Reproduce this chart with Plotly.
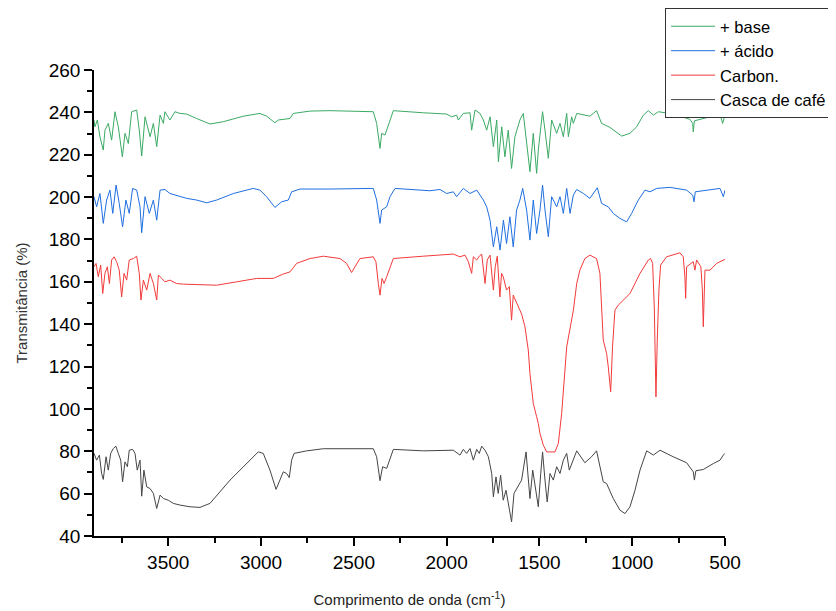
import plotly.graph_objects as go

# ---- Casca de café (black) ----
casca_wn = [3900, 3886, 3871, 3859, 3850, 3835, 3823, 3810, 3796, 3782, 3769, 3756, 3746, 3733, 3720, 3710,
            3692, 3679, 3667, 3652, 3643, 3631, 3616, 3598, 3580, 3562, 3544, 3526, 3500, 3473, 3437, 3383,
            3329, 3275, 3167, 3095, 3015, 2988, 2952, 2919, 2898, 2880, 2862, 2848, 2835, 2822, 2754, 2664,
            2395, 2377, 2359, 2345, 2323, 2287, 2126, 1982, 1964, 1928, 1910, 1892, 1874, 1856, 1838, 1824,
            1811, 1793, 1775, 1757, 1748, 1734, 1722, 1709, 1695, 1680, 1668, 1650, 1637, 1619, 1596, 1572,
            1562, 1551, 1536, 1524, 1506, 1493, 1483, 1470, 1458, 1443, 1425, 1407, 1389, 1371, 1353, 1339,
            1326, 1299, 1255, 1219, 1192, 1174, 1156, 1138, 1102, 1066, 1039, 1012, 985, 958, 922, 886,
            850, 779, 707, 671, 665, 657, 617, 563, 527, 509, 500]
casca_t = [79.0, 75.8, 78.2, 69.5, 66.7, 77.4, 71.1, 79.0, 81.3, 82.4, 79.0, 75.8, 65.6, 75.0, 72.7, 80.5,
           80.9, 79.0, 71.1, 75.8, 58.8, 71.1, 63.2, 62.4, 60.1, 53.0, 59.3, 57.7, 56.9, 55.4, 54.6, 53.8,
           53.5, 55.4, 66.4, 72.7, 79.7, 79.0, 71.1, 62.0, 66.4, 70.3, 69.5, 67.6, 75.8, 79.0, 80.2, 81.2,
           81.2, 77.4, 66.1, 72.7, 71.9, 80.9, 80.2, 80.5, 80.5, 78.2, 80.9, 79.0, 81.3, 75.8, 80.9, 79.0,
           82.4, 80.5, 77.4, 69.5, 58.5, 67.9, 60.1, 68.7, 56.9, 61.6, 55.4, 46.7, 60.1, 63.2, 66.4, 79.7,
           69.5, 57.7, 71.1, 63.2, 53.8, 69.5, 79.7, 66.4, 56.1, 69.5, 66.4, 72.7, 69.5, 75.8, 79.0, 71.1,
           74.2, 80.2, 74.6, 77.4, 80.2, 72.7, 65.6, 64.8, 57.7, 52.2, 50.6, 53.8, 61.6, 71.1, 80.2, 78.2,
           80.5, 77.4, 74.6, 70.3, 66.4, 70.8, 71.4, 74.2, 75.8, 78.2, 79.0]

# ---- Carbon. (red) ----
carb_wn = [3900, 3889, 3877, 3864, 3853, 3841, 3828, 3817, 3805, 3792, 3778, 3764, 3751, 3738, 3724, 3710,
           3688, 3670, 3656, 3647, 3634, 3616, 3598, 3580, 3562, 3553, 3535, 3518, 3491, 3455, 3419, 3239,
           3131, 3024, 2934, 2898, 2883, 2844, 2808, 2736, 2664, 2575, 2539, 2512, 2494, 2467, 2395, 2381,
           2368, 2359, 2348, 2337, 2323, 2287, 2126, 1982, 1964, 1928, 1901, 1883, 1865, 1856, 1838, 1824,
           1811, 1793, 1781, 1766, 1748, 1738, 1727, 1713, 1704, 1695, 1677, 1662, 1650, 1641, 1623, 1605,
           1596, 1578, 1560, 1551, 1542, 1533, 1515, 1506, 1497, 1479, 1461, 1416, 1398, 1380, 1353, 1335,
           1317, 1299, 1282, 1255, 1228, 1192, 1174, 1156, 1138, 1129, 1116, 1106, 1093, 1075, 1012, 958,
           913, 901, 890, 881, 872, 865, 856, 847, 815, 743, 725, 716, 712, 707, 671, 662,
           653, 630, 622, 617, 608, 581, 563, 545, 527, 509, 500]
carb_t = [167.1, 168.7, 162.4, 167.9, 154.5, 164.0, 167.1, 159.2, 170.3, 171.8, 169.5, 165.5, 152.9, 164.0, 160.8, 170.3,
          171.0, 172.1, 164.0, 151.4, 160.8, 156.1, 164.0, 159.2, 151.4, 163.2, 161.6, 160.0, 160.8, 159.2, 158.9, 158.4,
          160.0, 161.6, 161.6, 163.2, 163.6, 164.7, 168.7, 171.0, 172.1, 171.0, 168.7, 164.4, 167.1, 171.0, 171.8, 169.5,
          159.2, 153.7, 161.6, 159.2, 162.4, 171.0, 172.1, 173.1, 173.1, 171.8, 172.6, 169.5, 164.0, 171.8, 170.3, 172.1,
          173.1, 159.2, 170.3, 172.6, 156.1, 167.1, 172.1, 152.9, 164.0, 162.4, 156.1, 157.7, 141.9, 153.7, 149.8, 146.6,
          144.8, 138.8, 127.8, 116.7, 108.9, 102.6, 96.3, 93.1, 88.4, 82.9, 79.7, 79.7, 83.7, 97.9, 129.3, 138.8,
          146.6, 159.2, 165.5, 171.0, 172.6, 171.0, 164.0, 132.5, 126.2, 119.9, 108.1, 129.3, 146.6, 149.0, 154.5, 164.0,
          170.3, 171.0, 168.7, 148.2, 105.7, 132.5, 156.1, 167.9, 171.8, 173.7, 171.8, 162.4, 152.2, 167.1, 169.5, 165.5,
          170.3, 167.1, 156.1, 138.8, 165.5, 165.5, 167.1, 168.7, 169.5, 170.3, 170.6]

# ---- + ácido (blue) ----
acido_wn = [3900, 3886, 3868, 3850, 3832, 3814, 3799, 3781, 3764, 3746, 3728, 3710, 3692, 3670, 3652, 3643,
            3625, 3602, 3580, 3562, 3544, 3518, 3491, 3455, 3401, 3347, 3293, 3239, 3149, 3042, 3006, 2970,
            2925, 2889, 2853, 2835, 2790, 2628, 2395, 2377, 2359, 2350, 2323, 2305, 2278, 2090, 2036, 2000,
            1964, 1946, 1910, 1874, 1838, 1802, 1784, 1766, 1748, 1730, 1712, 1694, 1677, 1659, 1641, 1623,
            1605, 1590, 1569, 1551, 1533, 1515, 1497, 1483, 1470, 1452, 1434, 1407, 1389, 1371, 1353, 1335,
            1317, 1299, 1263, 1228, 1188, 1165, 1129, 1102, 1066, 1030, 1003, 967, 931, 904, 868, 797,
            707, 674, 667, 660, 581, 527, 509, 500]
acido_t = [200.2, 195.4, 201.7, 187.6, 198.6, 203.3, 192.3, 205.7, 197.0, 186.0, 198.6, 192.3, 204.1, 203.3, 195.4, 183.2,
           200.2, 192.3, 198.6, 189.1, 203.3, 203.6, 201.7, 200.9, 199.4, 198.6, 197.3, 198.6, 201.7, 204.1, 203.3, 200.2,
           195.1, 197.8, 198.6, 202.5, 203.8, 203.8, 204.1, 198.6, 187.6, 193.9, 195.4, 200.2, 204.1, 203.0, 203.6, 201.7,
           202.5, 200.2, 204.1, 201.7, 203.3, 198.6, 195.4, 189.1, 176.5, 186.0, 175.0, 189.1, 178.1, 190.7, 176.5, 193.9,
           198.6, 204.1, 193.9, 179.7, 198.6, 182.8, 193.9, 205.7, 193.9, 181.3, 200.2, 195.4, 200.2, 192.3, 204.1, 192.3,
           201.0, 203.6, 201.7, 199.4, 204.4, 197.0, 195.4, 192.3, 189.9, 188.3, 192.3, 198.6, 203.3, 202.5, 204.1, 204.6,
           203.3, 200.9, 197.8, 202.5, 203.6, 204.1, 200.2, 203.3]

# ---- + base (green) ----
base_wn = [3900, 3895, 3882, 3868, 3850, 3841, 3823, 3805, 3787, 3769, 3747, 3733, 3715, 3697, 3670, 3656,
           3643, 3625, 3598, 3580, 3562, 3544, 3526, 3518, 3491, 3464, 3437, 3401, 3347, 3275, 3203, 3095,
           3006, 2970, 2925, 2907, 2844, 2826, 2736, 2628, 2395, 2377, 2359, 2350, 2332, 2305, 2287, 2125,
           2036, 2000, 1973, 1946, 1937, 1910, 1874, 1865, 1847, 1820, 1802, 1784, 1766, 1748, 1730, 1721,
           1703, 1686, 1668, 1650, 1632, 1605, 1587, 1569, 1551, 1533, 1515, 1506, 1483, 1470, 1452, 1434,
           1407, 1389, 1371, 1353, 1344, 1326, 1317, 1299, 1228, 1192, 1165, 1120, 1057, 1012, 976, 940,
           913, 886, 859, 779, 689, 674, 671, 665, 617, 581, 545, 527, 513, 500]
base_t = [236.4, 233.2, 236.4, 228.5, 222.2, 231.6, 234.8, 226.9, 240.3, 233.2, 219.0, 230.1, 225.3, 240.3, 241.1, 231.6,
          219.4, 237.9, 228.5, 234.8, 223.8, 238.7, 234.8, 240.3, 236.4, 240.3, 239.5, 239.2, 237.1, 234.5, 235.6, 238.2,
          239.5, 238.2, 235.1, 236.4, 237.1, 239.5, 240.6, 240.8, 240.3, 234.8, 223.0, 230.1, 229.3, 236.4, 240.8, 239.8,
          239.5, 239.2, 237.9, 238.7, 236.4, 239.5, 239.8, 231.6, 241.1, 239.5, 236.4, 231.6, 237.9, 223.8, 236.4, 216.7,
          233.2, 219.0, 231.6, 213.5, 228.5, 236.4, 239.5, 225.3, 212.0, 230.1, 211.2, 222.2, 240.3, 231.6, 218.3, 236.4,
          230.1, 234.8, 228.5, 239.5, 228.5, 237.9, 234.8, 239.5, 238.2, 240.8, 234.8, 232.9, 228.8, 230.1, 233.2, 238.7,
          240.8, 238.7, 240.3, 239.2, 236.7, 234.8, 230.8, 236.0, 237.1, 237.9, 238.7, 239.5, 234.8, 238.7]

x_ticks = [3500, 3000, 2500, 2000, 1500, 1000, 500]

series = [
    ("+ base", base_wn, base_t, "#3aaa64"),
    ("+ ácido", acido_wn, acido_t, "#1f6fe0"),
    ("Carbon.", carb_wn, carb_t, "#f23a3a"),
    ("Casca de café", casca_wn, casca_t, "#454545"),
]

fig = go.Figure()
for name, xs, ys, col in series:
    fig.add_trace(go.Scatter(x=xs, y=ys, mode="lines", name=name,
                             line=dict(color=col, width=1)))

font_fam = "Arial, Liberation Sans, sans-serif"
fig.update_layout(
    width=836, height=611,
    margin=dict(l=86, r=119, t=62, b=83, autoexpand=False),
    paper_bgcolor="white", plot_bgcolor="white",
    font=dict(family=font_fam, color="black"),
    showlegend=True,
    legend=dict(x=0.905, y=1.133, xanchor="left", yanchor="top",
                bordercolor="#333333", borderwidth=1, bgcolor="white",
                font=dict(size=16.5, family=font_fam), tracegroupgap=0,
                itemwidth=44),
)
fig.update_xaxes(
    range=[3900, 500], autorange=False, automargin=False,
    tickmode="array", tickvals=x_ticks,
    ticks="outside", ticklen=8, tickwidth=1.5, tickcolor="black",
    showline=True, linecolor="black", linewidth=1.5,
    showgrid=False, zeroline=False,
    tickfont=dict(size=19, family=font_fam),
    minor=dict(dtick=250, tick0=500, ticks="outside", ticklen=5, tickwidth=1.5, tickcolor="black", showgrid=False),
    title=dict(text="Comprimento de onda (cm<sup>-1</sup>)", font=dict(size=15, color="#222"), standoff=23),
)
fig.update_yaxes(
    range=[40, 260], autorange=False, automargin=False,
    tick0=40, dtick=20,
    ticks="outside", ticklen=8, tickwidth=1.5, tickcolor="black",
    showline=True, linecolor="black", linewidth=1.5,
    showgrid=False, zeroline=False,
    tickfont=dict(size=19, family=font_fam),
    minor=dict(dtick=10, tick0=40, ticks="outside", ticklen=5, tickwidth=1.5, tickcolor="black", showgrid=False),
    title=dict(text="Transmitância (%)", font=dict(size=15, color="#333"), standoff=17),
)

fig.write_html("out.html")
